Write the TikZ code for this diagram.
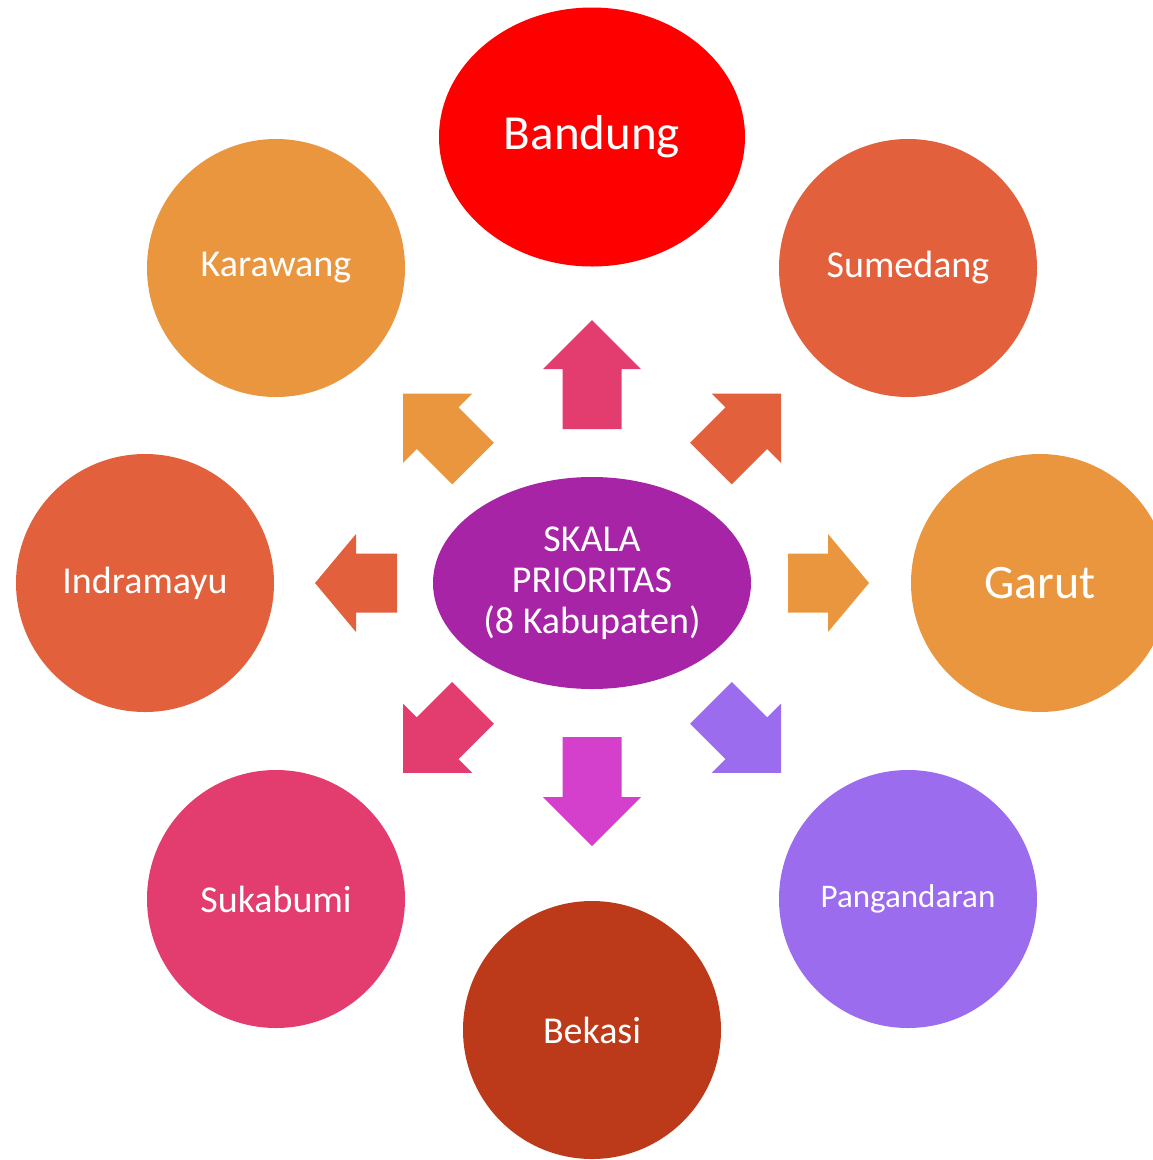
\documentclass[tikz,border=0pt]{standalone}
\usepackage{fontspec}
\setmainfont{Carlito}
\usetikzlibrary{shapes.geometric}

\definecolor{merah}{HTML}{FF0000}
\definecolor{bata}{HTML}{E3603D}
\definecolor{jingga}{HTML}{E9963E}
\definecolor{ungu}{HTML}{9C6CEF}
\definecolor{coklat}{HTML}{BC3A19}
\definecolor{rosa}{HTML}{E33D6F}
\definecolor{magenta2}{HTML}{D43FCB}
\definecolor{pusat}{HTML}{A624A5}

% block arrow: colour, tail point, angle, length, head length
\newcommand{\panah}[5]{%
 \fill[#1,shift={#2},rotate=#3] (0,-29.5) -- ({#4-#5},-29.5) -- ({#4-#5},-49)
   -- (#4,0) -- ({#4-#5},49) -- ({#4-#5},29.5) -- (0,29.5) -- cycle;}

\begin{document}
\begin{tikzpicture}[x=1pt,y=-1pt,
  kab/.style={circle,fill=#1,text=white,minimum size=258pt,inner sep=0pt,
    font=\fontsize{38}{44}\selectfont}]
 \useasboundingbox (0,0) rectangle (1152,1160);

 \node[ellipse,fill=merah,text=white,minimum width=306pt,minimum height=259pt,
   font=\fontsize{49}{56}\selectfont] (bandung) at (592,137) {Bandung};
 \node[kab=bata] (sumedang) at (908,268) {Sumedang};
 \node[kab=jingga,font=\fontsize{48}{56}\selectfont] (garut) at (1040,583) {Garut};
 \node[kab=ungu,font=\fontsize{33}{40}\selectfont] (pangandaran) at (908,899) {Pangandaran};
 \node[kab=coklat] (bekasi) at (592,1030) {Bekasi};
 \node[kab=rosa] (sukabumi) at (276,899) {Sukabumi};
 \node[kab=bata] (indramayu) at (145,583) {Indramayu};
 \node[kab=jingga] (karawang) at (276,268) {Karawang};

 \node[ellipse,fill=pusat,text=white,minimum width=318pt,minimum height=212pt,
   inner sep=0pt,align=center,font=\fontsize{38}{41}\selectfont] (skala) at (592,583)
   {SKALA\\PRIORITAS\\(8 Kabupaten)};

 \panah{rosa}{(592,429)}{90}{109}{49}
 \panah{magenta2}{(592,737)}{270}{109}{49}
 \panah{bata}{(397,583)}{180}{82}{41}
 \panah{jingga}{(788,583)}{0}{81}{41}
 \panah{jingga}{(473,463.5)}{135}{99}{49}
 \panah{bata}{(711,463.5)}{45}{99}{49}
 \panah{rosa}{(473,702.8)}{225}{99}{49}
 \panah{ungu}{(711,702.8)}{315}{99}{49}
\end{tikzpicture}
\end{document}
